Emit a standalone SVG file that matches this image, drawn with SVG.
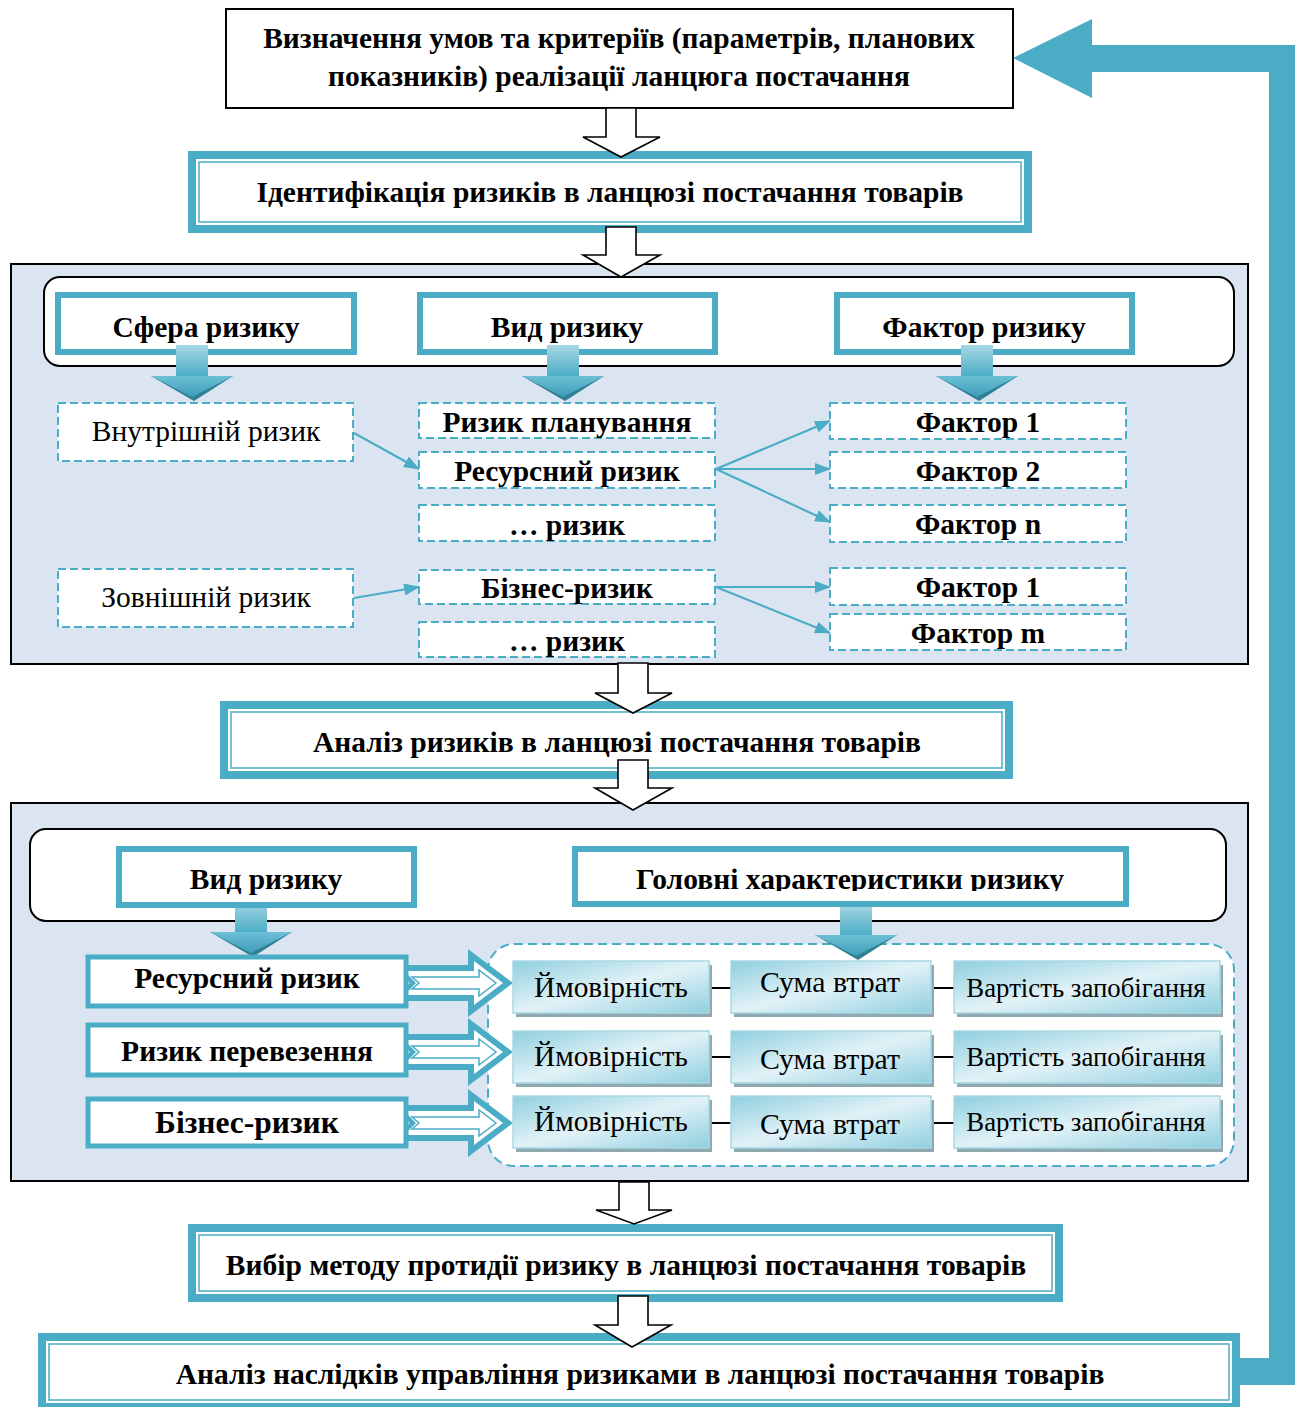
<svg xmlns="http://www.w3.org/2000/svg" xmlns:xlink="http://www.w3.org/1999/xlink" width="1295" height="1407" viewBox="0 0 1295 1407">
<style>
.t{font-family:"Liberation Serif","Times New Roman",serif;font-weight:bold;font-size:29.5px;text-anchor:middle;fill:#000}
.n{font-weight:normal}
.hollow{fill:#fff;stroke:#000;stroke-width:1.6}
.panel{fill:#dbe5f1;stroke:#000;stroke-width:2}
.round{fill:#fff;stroke:#000;stroke-width:2}
.hdr{fill:#fff;stroke:#4bacc6;stroke-width:6}
.dash{fill:#fff;stroke:#4bacc6;stroke-width:2;stroke-dasharray:8 4}
.teal{fill:#4bacc6}
.thin{fill:none;stroke:#4bacc6;stroke-width:1.5}
.conn{stroke:#4bacc6;stroke-width:2.2;fill:none;marker-end:url(#ah)}
.grad{fill:url(#gb);stroke:#a9d8e4;stroke-width:1.5}
.shadow{fill:#8fa9b1}
.blk{stroke:#000;stroke-width:2}
.c1{font-size:29.3px}
.c2{font-size:29.8px}
.c3{font-size:26.8px}
</style>
<defs>
<marker id="ah" markerWidth="16" markerHeight="12" refX="15" refY="6" orient="auto" markerUnits="userSpaceOnUse">
<path d="M0,0 L16,6 L0,12 Z" fill="#4bacc6"/>
</marker>
<linearGradient id="gs" x1="0" y1="0" x2="0" y2="1">
<stop offset="0" stop-color="#a6d7e4"/>
<stop offset="1" stop-color="#4bacc6"/>
</linearGradient>
<linearGradient id="gh" x1="0" y1="0" x2="0" y2="1">
<stop offset="0" stop-color="#6cc0d6"/>
<stop offset="1" stop-color="#3d9db7"/>
</linearGradient>
<linearGradient id="gb" x1="0" y1="0" x2="1" y2="1">
<stop offset="0" stop-color="#8fcfdf"/>
<stop offset="0.5" stop-color="#e2f2f7"/>
<stop offset="1" stop-color="#8fcfdf"/>
</linearGradient>
<g id="barrow">
<rect x="-16" y="0" width="32" height="32" fill="url(#gs)"/>
<polygon points="-41,31 41,31 2,56" fill="#2f7f95"/>
<polygon points="-41,31 41,31 0,52" fill="url(#gh)"/>
</g>
<clipPath id="clipG"><rect x="576" y="850" width="548" height="41"/></clipPath>
</defs>

<!-- feedback arrow -->
<g id="feedback">
<polygon class="teal" points="1240,1358 1269,1358 1269,72 1092,72 1092,98 1013,58 1092,19 1092,45 1295,45 1295,1385 1240,1385"/>
</g>

<!-- panels -->
<g id="panel1">
<rect class="panel" x="11" y="264" width="1237" height="400"/>
<rect class="round" x="44" y="277" width="1190" height="89" rx="16"/>
</g>
<g id="panel2">
<rect class="panel" x="11" y="803" width="1237" height="378"/>
<rect class="round" x="30" y="829" width="1196" height="92" rx="16"/>
<rect x="488" y="944" width="746" height="222" rx="26" class="dash" style="stroke-dasharray:9 5"/>
</g>

<!-- main steps -->
<g id="step1">
<rect x="226" y="9" width="787" height="99" fill="#fff" stroke="#000" stroke-width="2"/>
<text class="t" x="619" y="48">Визначення умов та критеріїв (параметрів, планових</text>
<text class="t" x="619" y="86">показників) реалізації ланцюга постачання</text>
</g>
<g id="step2">
<rect class="teal" x="188" y="151" width="844" height="82"/>
<rect fill="#fff" x="196" y="159" width="828" height="66"/>
<rect class="thin" x="199" y="162" width="822" height="60"/>
<text class="t" x="610" y="202">Ідентифікація ризиків в ланцюзі постачання товарів</text>
</g>
<g id="step3">
<rect class="teal" x="220" y="701" width="793" height="78"/>
<rect fill="#fff" x="228" y="709" width="777" height="62"/>
<rect class="thin" x="231" y="712" width="771" height="56"/>
<text class="t" x="617" y="752">Аналіз ризиків в ланцюзі постачання товарів</text>
</g>
<g id="step5">
<rect class="teal" x="188" y="1224" width="875" height="78"/>
<rect fill="#fff" x="196" y="1232" width="859" height="62"/>
<rect class="thin" x="199" y="1235" width="853" height="56"/>
<text class="t" x="626" y="1275">Вибір методу протидії ризику в ланцюзі постачання товарів</text>
</g>
<g id="step6">
<rect class="teal" x="38" y="1333" width="1202" height="82"/>
<rect fill="#fff" x="46" y="1341" width="1186" height="62"/>
<rect class="thin" x="49" y="1344" width="1180" height="56"/>
<text class="t" x="640" y="1384">Аналіз наслідків управління ризиками в ланцюзі постачання товарів</text>
</g>

<!-- hollow flow arrows -->
<g id="flow-arrows">
<polygon class="hollow" points="606,108 636,108 636,137 660,137 621,157 583,137 606,137"/>
<polygon class="hollow" points="606,227 636,227 636,255 660,255 621,277 583,255 606,255"/>
<polygon class="hollow" points="618,663 648,663 648,693 672,693 633,713 595,693 618,693"/>
<polygon class="hollow" points="618,760 648,760 648,788 672,788 633,810 595,788 618,788"/>
<polygon class="hollow" points="619,1182 649,1182 649,1210 672,1210 634,1224 596,1210 619,1210"/>
<polygon class="hollow" points="618,1296 648,1296 648,1325 671,1325 632,1347 595,1325 618,1325"/>
</g>

<!-- panel 1 headers -->
<g id="h-sfera"><rect class="hdr" x="58" y="295" width="296" height="57"/><text class="t" x="206" y="337">Сфера ризику</text></g>
<g id="h-vyd"><rect class="hdr" x="420" y="295" width="295" height="57"/><text class="t" x="567" y="337">Вид ризику</text></g>
<g id="h-faktor"><rect class="hdr" x="837" y="295" width="295" height="57"/><text class="t" x="984" y="337">Фактор ризику</text></g>

<g id="blue-arrows">
<use xlink:href="#barrow" href="#barrow" x="192" y="345"/>
<use xlink:href="#barrow" href="#barrow" x="563" y="345"/>
<use xlink:href="#barrow" href="#barrow" x="977" y="345"/>
<use xlink:href="#barrow" href="#barrow" x="251" y="901"/>
<use xlink:href="#barrow" href="#barrow" x="856" y="904"/>
</g>

<!-- panel 1 dashed nodes -->
<g id="n-vnutr"><rect class="dash" x="58" y="403" width="295" height="58"/><text class="t n" x="206" y="441">Внутрішній ризик</text></g>
<g id="n-zovn"><rect class="dash" x="58" y="569" width="295" height="58"/><text class="t n" x="206" y="607">Зовнішній ризик</text></g>
<g id="n-plan"><rect class="dash" x="419" y="403" width="296" height="35"/><text class="t" x="567" y="432">Ризик планування</text></g>
<g id="n-res"><rect class="dash" x="419" y="452" width="296" height="36"/><text class="t" x="567" y="481">Ресурсний ризик</text></g>
<g id="n-dots1"><rect class="dash" x="419" y="505" width="296" height="36"/><text class="t" x="567" y="535">… ризик</text></g>
<g id="n-biz"><rect class="dash" x="419" y="570" width="296" height="34"/><text class="t" x="567" y="598">Бізнес-ризик</text></g>
<g id="n-dots2"><rect class="dash" x="419" y="622" width="296" height="35"/><text class="t" x="567" y="651">… ризик</text></g>
<g id="n-f1"><rect class="dash" x="830" y="403" width="296" height="36"/><text class="t" x="978" y="432">Фактор 1</text></g>
<g id="n-f2"><rect class="dash" x="830" y="452" width="296" height="36"/><text class="t" x="978" y="481">Фактор 2</text></g>
<g id="n-fn"><rect class="dash" x="830" y="505" width="296" height="37"/><text class="t" x="978" y="534">Фактор n</text></g>
<g id="n-f1b"><rect class="dash" x="830" y="568" width="296" height="37"/><text class="t" x="978" y="597">Фактор 1</text></g>
<g id="n-fm"><rect class="dash" x="830" y="614" width="296" height="36"/><text class="t" x="978" y="643">Фактор m</text></g>

<g id="connectors">
<line class="conn" x1="354" y1="433" x2="419" y2="469"/>
<line class="conn" x1="354" y1="598" x2="419" y2="587"/>
<line class="conn" x1="716" y1="469" x2="830" y2="421"/>
<line class="conn" x1="716" y1="469" x2="830" y2="469"/>
<line class="conn" x1="716" y1="469" x2="830" y2="522"/>
<line class="conn" x1="716" y1="587" x2="830" y2="587"/>
<line class="conn" x1="716" y1="587" x2="830" y2="633"/>
<line class="blk" x1="709" y1="988" x2="731" y2="988"/>
<line class="blk" x1="931" y1="988" x2="954" y2="988"/>
<line class="blk" x1="709" y1="1057" x2="731" y2="1057"/>
<line class="blk" x1="931" y1="1057" x2="954" y2="1057"/>
<line class="blk" x1="709" y1="1123" x2="731" y2="1123"/>
<line class="blk" x1="931" y1="1123" x2="954" y2="1123"/>
</g>

<!-- panel 2 headers -->
<g id="h2-vyd"><rect class="hdr" x="119" y="849" width="295" height="56"/><text class="t" x="266" y="889">Вид ризику</text></g>
<g id="h2-gol"><rect class="hdr" x="575" y="849" width="551" height="55"/><text class="t" x="850" y="889" clip-path="url(#clipG)" textLength="428" lengthAdjust="spacingAndGlyphs">Головні характеристики ризику</text></g>

<!-- double arrows -->
<g id="double-arrows">
<g id="da1">
<polygon class="teal" points="393,965 468,965 468,949 513,983 468,1017 468,1001 393,1001 410,983"/>
<polygon fill="#fff" points="404,971 474,971 474,961 503,983 474,1005 474,995 404,995 416,983"/>
<polygon fill="#fff" stroke="#4bacc6" stroke-width="1.5" points="412,977 479,977 479,970 496,983 479,996 479,989 412,989 419,983"/>
</g>
<g id="da2">
<polygon class="teal" points="393,1034 468,1034 468,1018 513,1052 468,1086 468,1070 393,1070 410,1052"/>
<polygon fill="#fff" points="404,1040 474,1040 474,1030 503,1052 474,1074 474,1064 404,1064 416,1052"/>
<polygon fill="#fff" stroke="#4bacc6" stroke-width="1.5" points="412,1046 479,1046 479,1039 496,1052 479,1065 479,1058 412,1058 419,1052"/>
</g>
<g id="da3">
<polygon class="teal" points="393,1105 468,1105 468,1089 513,1123 468,1157 468,1141 393,1141 410,1123"/>
<polygon fill="#fff" points="404,1111 474,1111 474,1101 503,1123 474,1145 474,1135 404,1135 416,1123"/>
<polygon fill="#fff" stroke="#4bacc6" stroke-width="1.5" points="412,1117 479,1117 479,1110 496,1123 479,1136 479,1129 412,1129 419,1123"/>
</g>
</g>

<!-- panel 2 risk boxes -->
<g id="r-res"><rect fill="#fff" stroke="#4bacc6" stroke-width="5" x="88" y="957" width="318" height="49"/><text class="t" x="247" y="988">Ресурсний ризик</text></g>
<g id="r-per"><rect fill="#fff" stroke="#4bacc6" stroke-width="5" x="88" y="1025" width="318" height="50"/><text class="t" x="247" y="1061">Ризик перевезення</text></g>
<g id="r-biz"><rect fill="#fff" stroke="#4bacc6" stroke-width="5" x="88" y="1099" width="318" height="47"/><text class="t" x="247" y="1133" style="font-size:31.5px">Бізнес-ризик</text></g>

<!-- characteristic boxes -->
<g id="c11"><rect class="shadow" x="516" y="965" width="196" height="52"/><rect class="grad" x="513" y="961" width="196" height="52"/><text class="t n c1" x="611" y="997">Ймовірність</text></g>
<g id="c12"><rect class="shadow" x="734" y="965" width="200" height="52"/><rect class="grad" x="731" y="961" width="200" height="52"/><text class="t n c2" x="830" y="992">Сума втрат</text></g>
<g id="c13"><rect class="shadow" x="957" y="965" width="266" height="52"/><rect class="grad" x="954" y="961" width="266" height="52"/><text class="t n c3" x="1086" y="997">Вартість запобігання</text></g>
<g id="c21"><rect class="shadow" x="516" y="1035" width="196" height="52"/><rect class="grad" x="513" y="1031" width="196" height="52"/><text class="t n c1" x="611" y="1066">Ймовірність</text></g>
<g id="c22"><rect class="shadow" x="734" y="1035" width="200" height="52"/><rect class="grad" x="731" y="1031" width="200" height="52"/><text class="t n c2" x="830" y="1069">Сума втрат</text></g>
<g id="c23"><rect class="shadow" x="957" y="1035" width="266" height="52"/><rect class="grad" x="954" y="1031" width="266" height="52"/><text class="t n c3" x="1086" y="1066">Вартість запобігання</text></g>
<g id="c31"><rect class="shadow" x="516" y="1100" width="196" height="52"/><rect class="grad" x="513" y="1096" width="196" height="52"/><text class="t n c1" x="611" y="1131">Ймовірність</text></g>
<g id="c32"><rect class="shadow" x="734" y="1100" width="200" height="52"/><rect class="grad" x="731" y="1096" width="200" height="52"/><text class="t n c2" x="830" y="1134">Сума втрат</text></g>
<g id="c33"><rect class="shadow" x="957" y="1100" width="266" height="52"/><rect class="grad" x="954" y="1096" width="266" height="52"/><text class="t n c3" x="1086" y="1131">Вартість запобігання</text></g>
</svg>
